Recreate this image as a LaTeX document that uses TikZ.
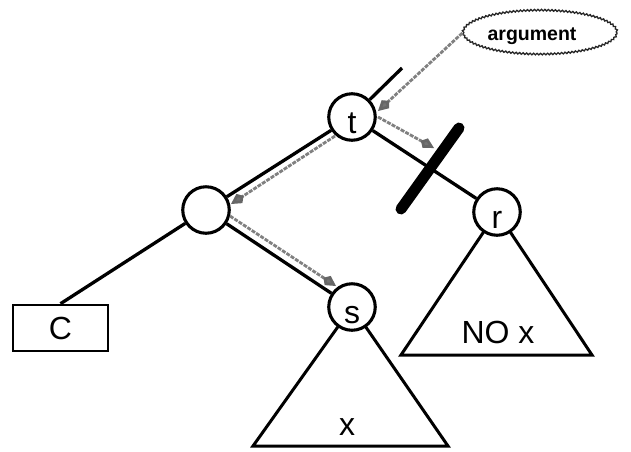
\documentclass[tikz,border=0pt]{standalone}
\usepackage{fontspec}
\setmainfont{Liberation Sans}
\usetikzlibrary{arrows.meta,shapes.geometric,decorations.pathmorphing}
\begin{document}
\begin{tikzpicture}[x=1pt,y=-1pt,
  edge/.style={line width=3.3pt},
  vert/.style={circle,draw,line width=3.1pt,fill=white,minimum size=46.5pt,inner sep=0pt,
    font=\fontsize{32}{36}\selectfont,text height=32pt,text depth=0pt},
  tri/.style={line width=3pt,line join=miter},
  garrow/.style={draw=black!50,line width=2.8pt,dash pattern=on 4pt off 1.2pt,
    -{Kite[length=15pt,width=11pt,inset=5pt,color=black!60,fill=black!55]}},
  big/.style={font=\fontsize{32}{36}\selectfont,inner sep=0pt},
  barstyle/.style={line width=11pt,line cap=round},
  argbox/.style={ellipse,draw=black!85,line width=1.3pt,minimum width=154pt,minimum height=44pt,
    inner sep=0pt,decorate,decoration={snake,amplitude=0.8pt,segment length=3.5pt}}
]
\useasboundingbox (0,0) rectangle (631,451);

% apex coordinates
\coordinate (sc) at (352,307);
\coordinate (rc) at (497,212);
\coordinate (sl) at (253,446);
\coordinate (sr) at (448,446);
\coordinate (rl) at (401,355);
\coordinate (rr) at (592,355);

% subtrees
\draw[tri] (sc) -- (sl) -- (sr) -- cycle;
\draw[tri] (rc) -- (rl) -- (rr) -- cycle;
\node[big,anchor=base] (xlab) at (347,435) {x};
\node[big,anchor=base] (nolab) at (498,343) {NO x};

% nodes
\node[vert] (t) at (352,117) {t};
\node[vert] (L) at (206,210) {};
\node[vert] (s) at (sc) {s};
\node[vert] (r) at (rc) {r};
\node[draw,line width=2.6pt,minimum width=95pt,minimum height=46pt,inner sep=0pt,
  font=\fontsize{32}{36}\selectfont] (C) at (60.5,328) {C};
\coordinate (tp) at (402,68);

% edges
\draw[edge] (t) -- (tp);
\draw[edge] (L) -- (t);
\draw[edge] (L) -- (s);
\draw[edge] (L) -- (C.north);
\draw[edge] (t) -- (r);

% cut bar
\coordinate (b1) at (459,128);
\coordinate (b2) at (401,209);
\draw[barstyle] (b1) -- (b2);

% argument bubble
\node[argbox] (arg) at (540,33) {};
\node[font=\fontsize{19.5}{22}\selectfont\bfseries,anchor=base,inner sep=0pt] (argt) at (532,40) {argument};

% gray arrows
\coordinate (a1s) at (335,136);
\coordinate (a1e) at (231,204);
\coordinate (a2s) at (230,216);
\coordinate (a2e) at (336,286);
\coordinate (a3s) at (378,117);
\coordinate (a3e) at (434,148);
\coordinate (a4e) at (378,111);
\draw[garrow] (a1s) -- (a1e);
\draw[garrow] (a2s) -- (a2e);
\draw[garrow] (a3s) -- (a3e);
\draw[garrow] (arg.west) -- (a4e);
\end{tikzpicture}
\end{document}
